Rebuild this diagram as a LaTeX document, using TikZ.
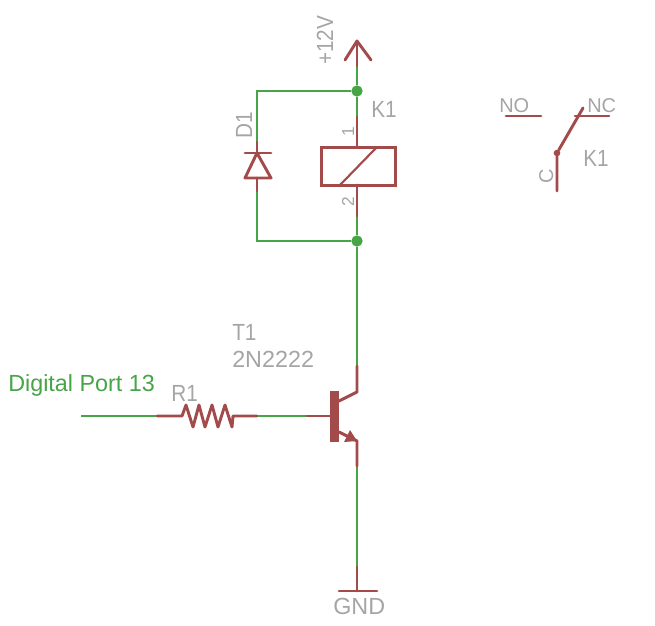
\documentclass[tikz,border=0pt]{standalone}
\usepackage{fontspec}
\setmainfont{Liberation Sans}
\usepackage{tikz}
\usetikzlibrary{positioning, arrows}
\definecolor{symbred}{HTML}{A34A4A}
\definecolor{netgreen}{HTML}{47A447}
\definecolor{labelgray}{HTML}{A5A5A5}
\newcommand{\nar}[1]{\scalebox{0.89}[1]{#1}}
\tikzstyle{symb} = [color=symbred, line width=2.2pt, line cap=round, line join=round]
\tikzstyle{net} = [color=netgreen, line width=1.6pt]
\tikzstyle{junction} = [circle, fill=netgreen, inner sep=0pt, minimum size=8.5pt]
\tikzstyle{lab} = [text=labelgray, inner sep=0pt, anchor=base west, font=\fontsize{17.5}{20}\selectfont]
\tikzstyle{smalllab} = [lab, font=\fontsize{15}{18}\selectfont]
\tikzstyle{pinlab} = [lab, font=\fontsize{13}{15}\selectfont, rotate=90]
\begin{document}
\begin{tikzpicture}[x=0.75pt, y=-0.75pt]
                \useasboundingbox (0,0) rectangle (655,625);
                % supply and coil
                \coordinate (tip) at (357,41);
                \coordinate (armleft) at (345,60);
                \coordinate (armright) at (371,60);
                \coordinate (vccpin) at (357,66);
                \node (top) [junction] at (357,91) {};
                \node (bottom) [junction] at (357,241) {};
                \coordinate (pinone) at (357,117);
                \coordinate (coiltop) at (357,147);
                \coordinate (coilbot) at (357,185);
                \coordinate (pintwo) at (357,216);
                \node (coil) [draw=symbred, line width=2.3pt, minimum width=55pt, minimum height=28.5pt, inner sep=0pt] at (358.5,166.5) {};
                \coordinate (slashlow) at (340,185);
                \coordinate (slashhigh) at (376,148);
                % diode
                \coordinate (topcorner) at (257,91);
                \coordinate (botcorner) at (257,241);
                \coordinate (cathpin) at (257,142);
                \coordinate (anodepin) at (257,191);
                \coordinate (apex) at (257,153);
                \coordinate (barleft) at (245,153);
                \coordinate (barright) at (271,153);
                \coordinate (baseleft) at (245,178);
                \coordinate (baseright) at (271,178);
                \coordinate (basemid) at (257,178);
                % transistor
                \coordinate (collpin) at (357,366);
                \coordinate (collbend) at (357,392);
                \coordinate (collbar) at (339,401);
                \coordinate (emitbar) at (339,432);
                \coordinate (emitbend) at (357,441);
                \coordinate (emitpin) at (357,466);
                \coordinate (basepin) at (307,416);
                \coordinate (barmid) at (331,416);
                \coordinate (gndpin) at (357,567);
                \coordinate (gndmid) at (357,591);
                \coordinate (gndleft) at (339,591);
                \coordinate (gndright) at (377,591);
                % input and resistor
                \coordinate (input) at (81,416);
                \coordinate (respina) at (157,416);
                \coordinate (resa) at (182,416);
                \coordinate (resb) at (233,416);
                \coordinate (respinb) at (257,416);
                % relay contact
                \coordinate (compin) at (557,191);
                \node (com) [circle, fill=symbred, inner sep=0pt, minimum size=5pt] at (557,153) {};
                \coordinate (armend) at (583,108);
                \coordinate (noa) at (506,116);
                \coordinate (nob) at (541,116);
                \coordinate (nca) at (575,116);
                \coordinate (ncb) at (609,116);

                \draw [net] (vccpin) -- (top);
                \draw [net] (top) -- (pinone);
                \draw [net] (top) -- (topcorner) -- (cathpin);
                \draw [net] (anodepin) -- (botcorner) -- (bottom);
                \draw [net] (pintwo) -- (bottom);
                \draw [net] (bottom) -- (collpin);
                \draw [net] (emitpin) -- (gndpin);
                \draw [net] (input) -- (respina);
                \draw [net] (respinb) -- (basepin);

                \draw [symb] (armleft) -- (tip) -- (armright);
                \draw [symb] (tip) -- (vccpin);
                \draw [symb] (pinone) -- (coiltop);
                \draw [symb] (coilbot) -- (pintwo);
                \draw [symb, line width=1.6pt] (slashlow) -- (slashhigh);
                \draw [symb] (cathpin) -- (apex);
                \draw [symb] (barleft) -- (barright);
                \draw [symb] (apex) -- (baseleft) -- (baseright) -- cycle;
                \draw [symb] (basemid) -- (anodepin);
                \draw [symb] (collpin) -- (collbend) -- (collbar);
                \draw [symb] (emitbar) -- (emitbend) -- (emitpin);
                \fill [symbred] (350,430) -- (344,442) -- (emitbend) -- cycle;
                \fill [symbred] (330,391) rectangle (339,442);
                \draw [symb] (basepin) -- (barmid);
                \draw [symb] (gndpin) -- (gndmid);
                \draw [symb] (gndleft) -- (gndright);
                \draw [symb] (respina) -- (resa) -- (186,405) -- (193,427) -- (199,405) -- (205,427) -- (212,405) -- (218,427) -- (225,405) -- (232,427) -- (resb) -- (respinb);
                \draw [symb] (compin) -- (com) -- (armend);
                \draw [symb] (noa) -- (nob);
                \draw [symb] (nca) -- (ncb);

                \node (vcclab) [lab, rotate=90] at (333,65) {\nar{+12V}};
                \node (k1lab) [lab] at (371,117) {\nar{K1}};
                \node (d1lab) [lab, rotate=90] at (252,139) {\nar{D1}};
                \node (pinonelab) [pinlab] at (354,137) {1};
                \node (pintwolab) [pinlab] at (354,207) {2};
                \node (nolab) [smalllab] at (499,112) {NO};
                \node (nclab) [smalllab] at (587,112) {NC};
                \node (clab) [smalllab, rotate=90] at (553,184) {C};
                \node (k1contact) [lab] at (583,166) {\nar{K1}};
                \node (t1lab) [lab] at (232,340) {\nar{T1}};
                \node (typelab) [lab] at (232,367) {2N2222};
                \node (r1lab) [lab] at (171,401) {\nar{R1}};
                \node (portlab) [lab, text=netgreen] at (8,391) {Digital Port 13};
                \node (gndlab) [lab] at (333,614) {GND};
\end{tikzpicture}
\end{document}
